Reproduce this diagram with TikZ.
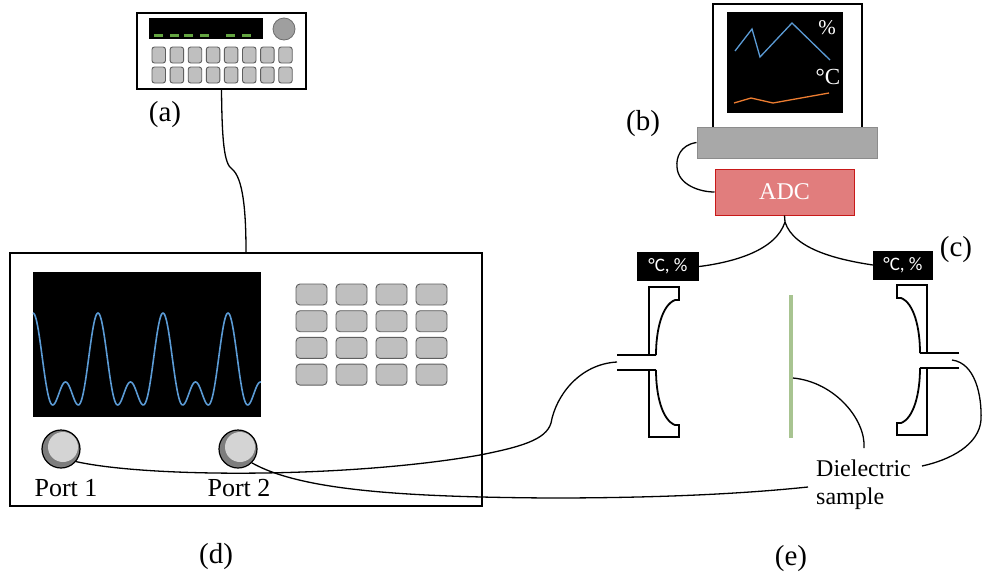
\documentclass[tikz,border=0pt]{standalone}
\usepackage{fontspec}
\setmainfont{Liberation Serif}
\newfontfamily\sensorfont{Carlito}
\definecolor{keyfill}{RGB}{191,191,191}
\definecolor{keyedge}{RGB}{95,95,95}
\definecolor{wave}{RGB}{91,155,213}
\definecolor{temp}{RGB}{237,125,49}
\definecolor{lcd}{RGB}{100,165,65}
\definecolor{basefill}{RGB}{168,168,168}
\definecolor{baseedge}{RGB}{140,140,140}
\definecolor{adcfill}{RGB}{225,125,125}
\definecolor{adcedge}{RGB}{200,25,25}
\definecolor{slab}{RGB}{168,196,145}
\definecolor{portring}{RGB}{125,125,125}
\definecolor{portface}{RGB}{212,212,212}
\begin{document}
\begin{tikzpicture}[x=1pt,y=-1pt,
  outline/.style={draw=black,line width=1.8pt},
  cable/.style={draw=black,line width=1.3pt},
  key/.style={draw=keyedge,fill=keyfill,line width=0.9pt,rounded corners=3pt},
  lbl/.style={inner sep=0pt,font=\fontsize{24}{28}\selectfont},
  tag/.style={inner sep=0pt,font=\fontsize{29}{32}\selectfont},
  portlbl/.style={inner sep=0pt,font=\fontsize{26}{30}\selectfont},
  panel/.style={outline,fill=white,inner sep=0pt},
  sensor/.style={fill=black,text=white,inner sep=0pt,minimum height=29,
                 font=\sensorfont\fontsize{19}{22}\selectfont},
  port/.style={circle,draw=black,line width=1.2pt,fill=portring,minimum size=38,inner sep=0pt},
  horn/.style={draw=black,line width=1.8pt,line join=miter}
]
\useasboundingbox (0,0) rectangle (982,581);

% ---------- signal generator (a) ----------
\node[panel,minimum width=169,minimum height=76] (gen) at (221.5,51) {};
\fill[black] (149,18) rectangle (263,39);
\foreach \a/\b in {154/163,170/179,184/193,200/209,226/235,242/251}
  \draw[lcd,line width=3pt] (\a,35) -- (\b,35);
\filldraw[fill=gray!75,draw=gray!85!black,line width=0.8pt] (284,29) circle (11);
\foreach \i in {0,...,7}
  \foreach \r in {47,67}
    \draw[key,rounded corners=2.5pt] ({152+18.1*\i},\r) rectangle ++(13.5,16);
\node[tag] (la) at (165,115) {(a)};

% ---------- network analyser (d) ----------
\node[panel,minimum width=472,minimum height=253] (vna) at (246,379.5) {};
\fill[black] (33,272) rectangle (261,417);
\draw[wave,line width=1.6pt,line join=round]
  plot[domain=33:261,samples=300]
  (\x,{405-(cos((\x-98)/65*360)+0.75*cos((\x-98)/65*720)+0.917)*34.5});
\foreach \i in {0,...,3}
  \foreach \j in {0,...,3}
    \draw[key,rounded corners=4pt] ({296+40*\i},{284+26.7*\j}) rectangle ++(31,21);
\node[port] (port1) at (61,449) {};
\node[port] (port2) at (238,449) {};
\fill[portface] (63,447) circle (15);
\fill[portface] (240,447) circle (15);
\node[portlbl] (lp1) at (66,488) {Port 1};
\node[portlbl] (lp2) at (239,488) {Port 2};
\node[tag] (ld) at (216,557) {(d)};

\draw[cable] (gen.south) .. controls (222,140) and (224,164) .. (232,169)
  .. controls (243,178) and (246,210) .. (vna.north);

% ---------- computer (b) ----------
\draw[line width=2.5pt,fill=white] (713,4) rectangle (862,132);
\fill[black] (727,12) rectangle (843,113);
\draw[wave,line width=1.3pt] (735,51) -- (752,29) -- (760,57) -- (792,23) -- (830,60);
\draw[temp,line width=1.3pt] (734,103) -- (751,98) -- (773,103) -- (829,93);
\node[text=white,inner sep=0pt,font=\fontsize{21}{23}\selectfont] (pct) at (827,28) {\%};
\node[text=white,inner sep=0pt,font=\fontsize{23}{25}\selectfont] (deg) at (828,77) {°C};
\node[draw=baseedge,fill=basefill,line width=1pt,minimum width=180,minimum height=31,inner sep=0pt]
  (base) at (787,142.5) {};
\node[tag] (lb) at (643,124) {(b)};

\node[draw=adcedge,fill=adcfill,line width=1pt,minimum width=139,minimum height=46,
      text=white,font=\fontsize{24}{26}\selectfont] (adc) at (784.5,192) {ADC};
\draw[cable] (base.west) .. controls (680,145) and (676,158) .. (677,167)
  .. controls (678,185) and (700,192) .. (adc.west);

% ---------- sensors (c) ----------
\node[sensor,minimum width=62] (sL) at (668,266.5) {°C, \%};
\node[sensor,minimum width=60] (sR) at (903,265) {°C, \%};
\node[tag] (lc) at (956,250) {(c)};
\coordinate (split) at (785,222);
\draw[cable] (adc.south) -- (split);
\draw[cable] (split) .. controls (776,250) and (735,262) .. (sL.east);
\draw[cable] (split) .. controls (794,250) and (840,260) .. (sR.west);

% ---------- lens horns and sample (e) ----------
\begin{scope}
  \draw[horn] (649,355) -- (649,287) -- (679,287) -- (679,300) -- (675,300)
     .. controls (662,305) and (656,330) .. (656,355);
  \draw[horn] (649,370) -- (649,437) -- (679,437) -- (679,425) -- (675,425)
     .. controls (662,420) and (656,395) .. (656,370);
  \draw[horn] (617,355) -- (656,355);
  \draw[horn] (617,370) -- (656,370);
\end{scope}
\begin{scope}[shift={(1576,-2)},xscale=-1]
  \draw[horn] (649,355) -- (649,287) -- (679,287) -- (679,300) -- (675,300)
     .. controls (662,305) and (656,330) .. (656,355);
  \draw[horn] (649,370) -- (649,437) -- (679,437) -- (679,425) -- (675,425)
     .. controls (662,420) and (656,395) .. (656,370);
  \draw[horn] (617,355) -- (656,355);
  \draw[horn] (617,370) -- (656,370);
\end{scope}
\coordinate (hornL) at (617,362);
\coordinate (hornR) at (952,360);
\draw[slab,line width=4.5pt] (791,295) -- (791,438);
\coordinate (slabpt) at (793,378);

\node[lbl,align=left,anchor=north west] (diel) at (816,460) {Dielectric\\sample};
\coordinate (dtop) at (864,448);
\coordinate (dright) at (922,466);
\coordinate (dleft) at (808,487);
\node[tag] (le) at (791,559) {(e)};

\draw[cable] (slabpt) .. controls (835,382) and (866,420) .. (dtop);
\draw[cable] (hornR) .. controls (975,363) and (982,395) .. (981,420)
  .. controls (979,445) and (950,460) .. (dright);

% ---------- coaxial cables ----------
\draw[cable] (port1.-40) .. controls (150,478) and (350,478) .. (480,455)
  .. controls (520,447) and (546,440) .. (551,423)
  .. controls (556,395) and (580,364) .. (hornL);
\draw[cable] (port2.-45) .. controls (300,490) and (400,497) .. (550,498)
  .. controls (680,498) and (760,492) .. (dleft);
\end{tikzpicture}
\end{document}
